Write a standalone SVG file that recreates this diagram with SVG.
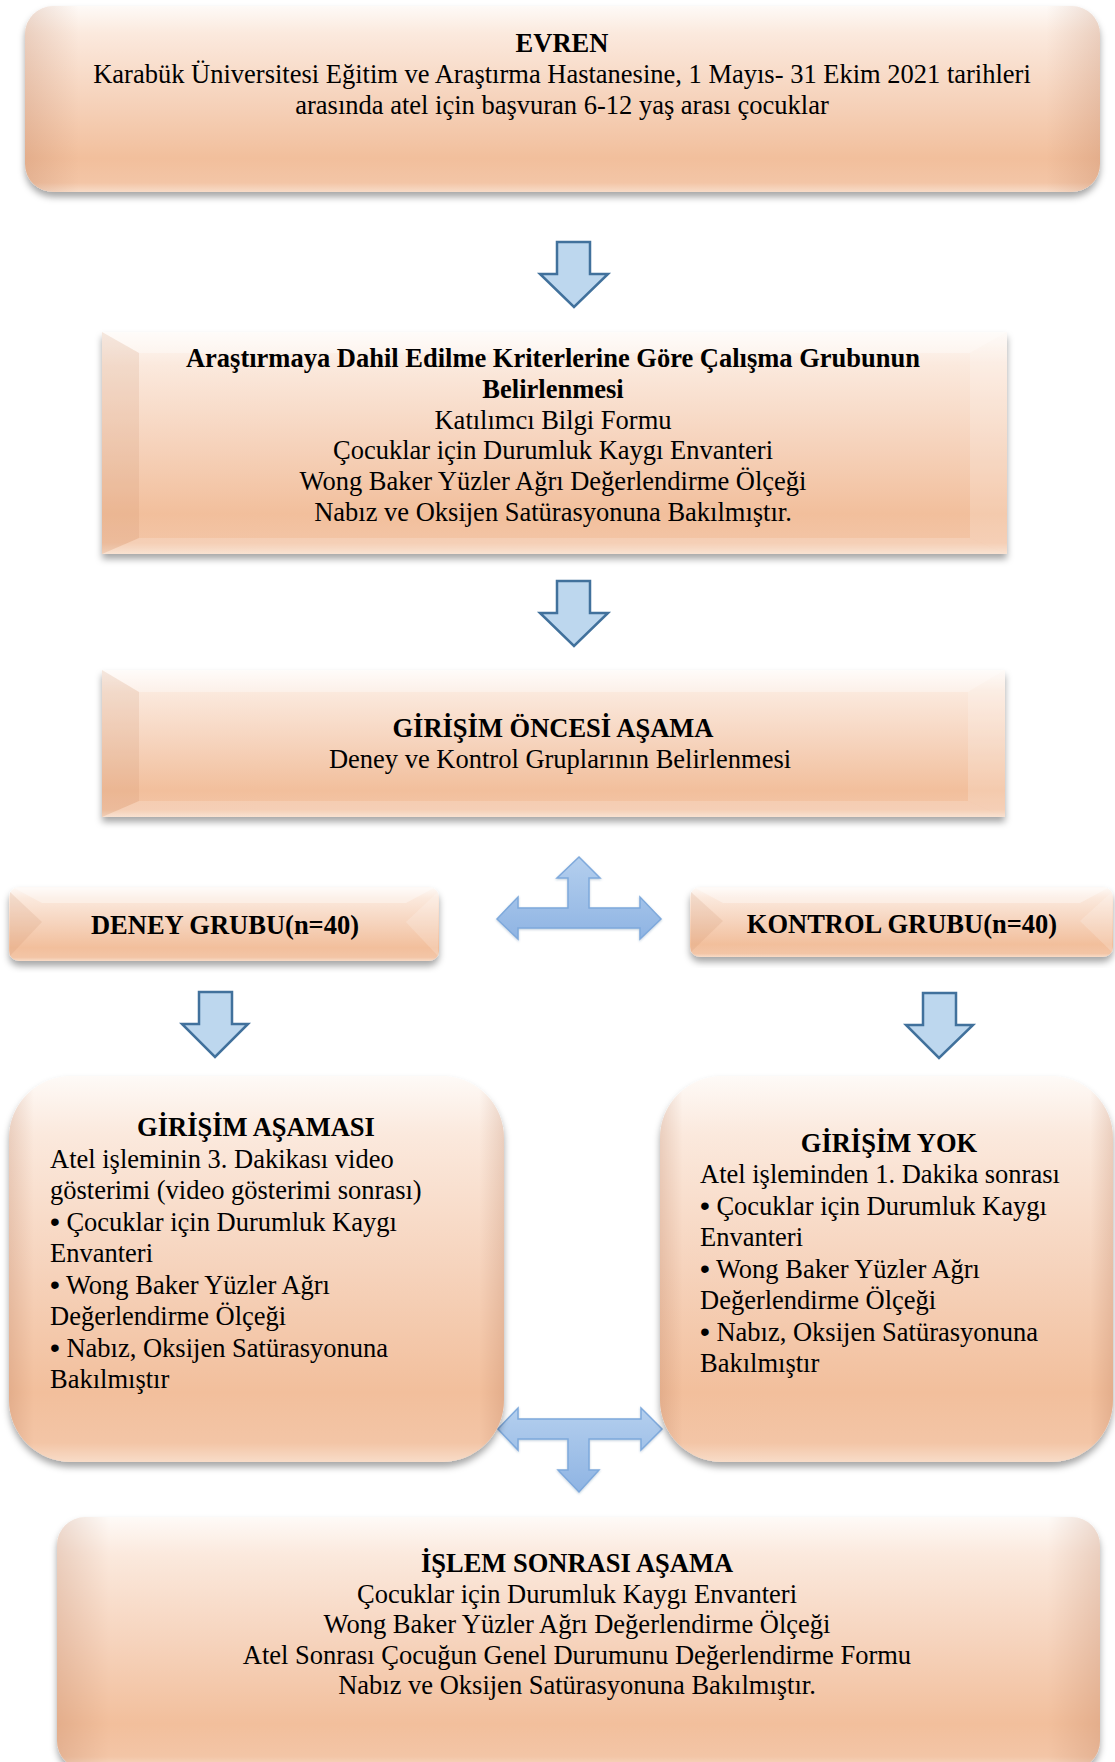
<svg xmlns="http://www.w3.org/2000/svg" width="1115" height="1762" viewBox="0 0 1115 1762">
<defs>
<linearGradient id="peach" x1="0" y1="0" x2="0" y2="1">
<stop offset="0" stop-color="#fefaf7"/>
<stop offset="0.15" stop-color="#fbe9dd"/>
<stop offset="0.5" stop-color="#f6d3bc"/>
<stop offset="0.82" stop-color="#f2bf9c"/>
<stop offset="0.95" stop-color="#f3c5a6"/>
<stop offset="1" stop-color="#f8dcc8"/>
</linearGradient>
<linearGradient id="sides" x1="0" y1="0" x2="1" y2="0">
<stop offset="0" stop-color="#b07050" stop-opacity="0.22"/>
<stop offset="0.05" stop-color="#b07050" stop-opacity="0"/>
<stop offset="0.95" stop-color="#b07050" stop-opacity="0"/>
<stop offset="1" stop-color="#b07050" stop-opacity="0.22"/>
</linearGradient>
<linearGradient id="blue3" x1="0" y1="0" x2="0" y2="1">
<stop offset="0" stop-color="#b4cfee"/>
<stop offset="1" stop-color="#8fb4e3"/>
</linearGradient>
<filter id="shadow" x="-5%" y="-10%" width="110%" height="125%">
<feDropShadow dx="0" dy="5" stdDeviation="3.5" flood-color="#000" flood-opacity="0.35"/>
</filter>
<filter id="soft" x="-10%" y="-10%" width="120%" height="130%">
<feDropShadow dx="0" dy="1" stdDeviation="1" flood-color="#2e5d8c" flood-opacity="0.3"/>
</filter>
</defs>
<style>
text{font-family:"Liberation Serif","Times New Roman",serif;font-size:26.5px;fill:#000}
.b{font-weight:bold}
.c{text-anchor:middle}
.bu{font-family:"Liberation Sans",Arial,sans-serif;font-size:28px}
.box{fill:url(#peach)}
.edge{fill:url(#sides)}
.hi{fill:#ffffff;fill-opacity:0.35}
.lo{fill:#c88866;fill-opacity:0.16}
.hr{fill:#ffffff;fill-opacity:0.18}
.down{fill:#bdd7ee;stroke:#41719c;stroke-width:2.5;stroke-linejoin:miter}
.tri{fill:url(#blue3);stroke:#7ea9dc;stroke-width:1.5;stroke-linejoin:miter}
</style>
<rect width="1115" height="1762" fill="#ffffff"/>

<g id="connectors">
<path class="down" d="M557,242 H590 V274 H608 L574,307 L540,274 H557 Z"/>
<path class="down" d="M557,581 H590 V613 H608 L574,646 L540,613 H557 Z"/>
<path class="down" d="M199,992 H232 V1024 H248 L215,1057 L182,1024 H199 Z"/>
<path class="down" d="M923,993 H956 V1025 H973 L939,1058 L906,1025 H923 Z"/>
<path class="tri" filter="url(#soft)" d="M497,919 L518,897 L518,908 L568,908 L568,878 L557,878 L579,857 L600,878 L589,878 L589,908 L640,908 L640,897 L661,919 L640,939 L640,928 L518,928 L518,939 Z"/>
<path class="tri" filter="url(#soft)" d="M498,1429 L518,1408 L518,1419 L641,1419 L641,1408 L662,1429 L641,1450 L641,1439 L589,1439 L589,1470 L599,1470 L579,1492 L558,1470 L568,1470 L568,1439 L518,1439 L518,1450 Z"/>
</g>

<g id="evren">
<rect class="box" x="25" y="6" width="1075" height="186" rx="28" filter="url(#shadow)"/>
<rect class="edge" x="25" y="6" width="1075" height="186" rx="28"/>
<text class="b c" x="562" y="52">EVREN</text>
<text class="c" x="562" y="83">Karabük Üniversitesi Eğitim ve Araştırma Hastanesine, 1 Mayıs- 31 Ekim 2021 tarihleri</text>
<text class="c" x="562" y="114">arasında atel için başvuran 6-12 yaş arası çocuklar</text>
</g>

<g id="calisma-grubu">
<rect class="box" x="102" y="332" width="905" height="222" filter="url(#shadow)"/>
<polygon class="hi" points="102,332 1007,332 970,353 139,353"/>
<polygon class="lo" points="102,332 139,353 139,538 102,554"/>
<polygon class="hr" points="1007,332 970,353 970,538 1007,554"/>
<polygon class="hr" points="102,554 139,538 970,538 1007,554"/>
<text class="b c" x="553" y="367">Araştırmaya Dahil Edilme Kriterlerine Göre Çalışma Grubunun</text>
<text class="b c" x="553" y="397.8">Belirlenmesi</text>
<text class="c" x="553" y="428.6">Katılımcı Bilgi Formu</text>
<text class="c" x="553" y="459.4">Çocuklar için Durumluk Kaygı Envanteri</text>
<text class="c" x="553" y="490.2">Wong Baker Yüzler Ağrı Değerlendirme Ölçeği</text>
<text class="c" x="553" y="521">Nabız ve Oksijen Satürasyonuna Bakılmıştır.</text>
</g>

<g id="girisim-oncesi">
<rect class="box" x="102" y="670" width="903" height="147" filter="url(#shadow)"/>
<polygon class="hi" points="102,670 1005,670 968,692 139,692"/>
<polygon class="lo" points="102,670 139,692 139,801 102,817"/>
<polygon class="hr" points="1005,670 968,692 968,801 1005,817"/>
<polygon class="hr" points="102,817 139,801 968,801 1005,817"/>
<text class="b c" x="553" y="737">GİRİŞİM ÖNCESİ AŞAMA</text>
<text class="c" x="560" y="768">Deney ve Kontrol Gruplarının Belirlenmesi</text>
</g>

<g id="deney-grubu">
<rect class="box" x="9" y="887" width="430" height="74" rx="10" filter="url(#shadow)"/>
<polygon class="hi" points="14,888 434,888 406,903 42,903"/>
<polygon class="lo" points="10,892 42,922 10,956"/>
<polygon class="hr" points="438,892 406,922 438,956"/>
<text class="b c" x="225" y="934">DENEY GRUBU(n=40)</text>
</g>

<g id="kontrol-grubu">
<rect class="box" x="690" y="887" width="423" height="70" rx="10" filter="url(#shadow)"/>
<polygon class="hi" points="695,888 1108,888 1080,903 723,903"/>
<polygon class="lo" points="691,892 723,921 691,952"/>
<polygon class="hr" points="1112,892 1080,921 1112,952"/>
<text class="b c" x="902" y="933">KONTROL GRUBU(n=40)</text>
</g>

<g id="girisim-asamasi">
<rect class="box" x="9" y="1076" width="495" height="386" rx="62" filter="url(#shadow)"/>
<rect class="edge" x="9" y="1076" width="495" height="386" rx="62"/>
<text class="b c" x="256" y="1136">GİRİŞİM AŞAMASI</text>
<text x="50" y="1167.5">Atel işleminin 3. Dakikası video</text>
<text x="50" y="1199">gösterimi (video gösterimi sonrası)</text>
<text x="50" y="1230.5"><tspan class="bu">•</tspan> Çocuklar için Durumluk Kaygı</text>
<text x="50" y="1262">Envanteri</text>
<text x="50" y="1293.5"><tspan class="bu">•</tspan> Wong Baker Yüzler Ağrı</text>
<text x="50" y="1325">Değerlendirme Ölçeği</text>
<text x="50" y="1356.5"><tspan class="bu">•</tspan> Nabız, Oksijen Satürasyonuna</text>
<text x="50" y="1388">Bakılmıştır</text>
</g>

<g id="girisim-yok">
<rect class="box" x="660" y="1076" width="453" height="386" rx="62" filter="url(#shadow)"/>
<rect class="edge" x="660" y="1076" width="453" height="386" rx="62"/>
<text class="b c" x="889" y="1151.5">GİRİŞİM YOK</text>
<text x="700" y="1183">Atel işleminden 1. Dakika sonrası</text>
<text x="700" y="1214.5"><tspan class="bu">•</tspan> Çocuklar için Durumluk Kaygı</text>
<text x="700" y="1246">Envanteri</text>
<text x="700" y="1277.5"><tspan class="bu">•</tspan> Wong Baker Yüzler Ağrı</text>
<text x="700" y="1309">Değerlendirme Ölçeği</text>
<text x="700" y="1340.5"><tspan class="bu">•</tspan> Nabız, Oksijen Satürasyonuna</text>
<text x="700" y="1372">Bakılmıştır</text>
</g>

<g id="islem-sonrasi">
<rect class="box" x="57" y="1517" width="1043" height="252" rx="28" filter="url(#shadow)"/>
<rect class="edge" x="57" y="1517" width="1043" height="252" rx="28"/>
<text class="b c" x="577" y="1572">İŞLEM SONRASI AŞAMA</text>
<text class="c" x="577" y="1602.5">Çocuklar için Durumluk Kaygı Envanteri</text>
<text class="c" x="577" y="1633">Wong Baker Yüzler Ağrı Değerlendirme Ölçeği</text>
<text class="c" x="577" y="1663.5">Atel Sonrası Çocuğun Genel Durumunu Değerlendirme Formu</text>
<text class="c" x="577" y="1694">Nabız ve Oksijen Satürasyonuna Bakılmıştır.</text>
</g>
</svg>
